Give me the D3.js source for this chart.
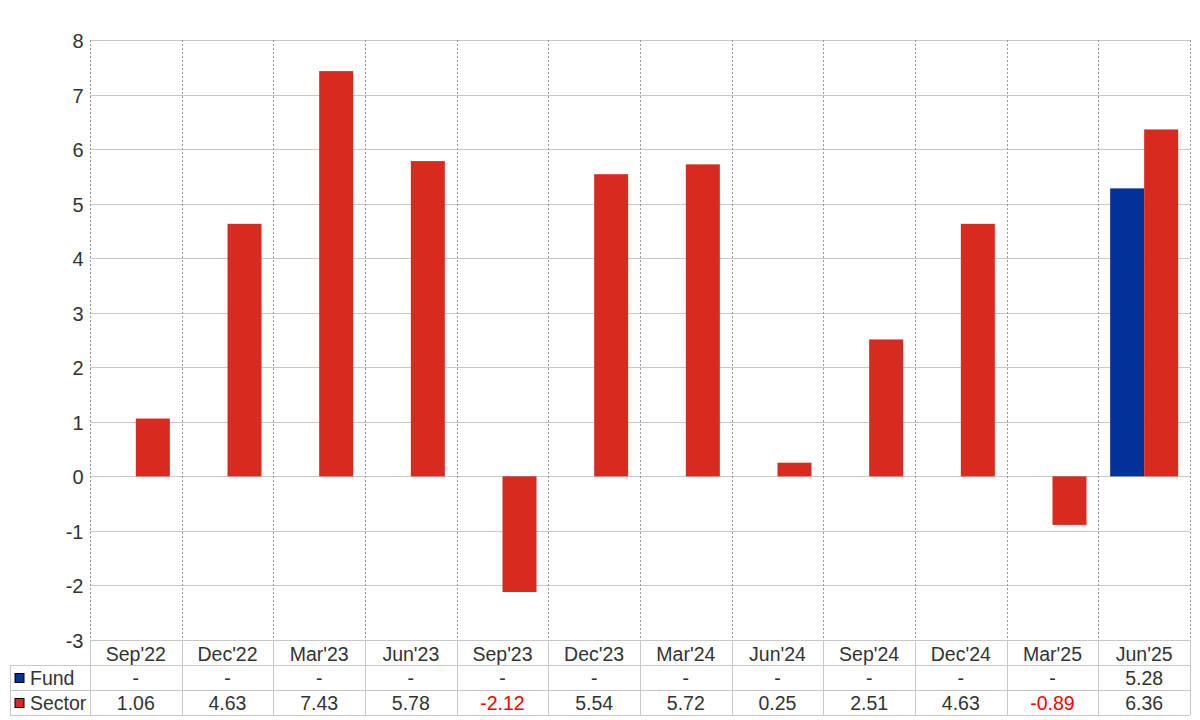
<!DOCTYPE html>
<html><head><meta charset="utf-8">
<script src="https://cdn.jsdelivr.net/npm/d3@7"></script>
<style>body{margin:0;background:#fff}svg{display:block;font-family:"Liberation Sans",Arial,sans-serif}</style>
</head><body><svg id="c" width="1200" height="720"></svg>
<script>
const categories = ["Sep'22","Dec'22","Mar'23","Jun'23","Sep'23","Dec'23","Mar'24","Jun'24","Sep'24","Dec'24","Mar'25","Jun'25"];
const seriesNames = ["Fund","Sector"];
const fundValues = [null,null,null,null,null,null,null,null,null,null,null,5.28];
const sectorValues = [1.06,4.63,7.43,5.78,-2.12,5.54,5.72,0.25,2.51,4.63,-0.89,6.36];
const yTicks = [-3,-2,-1,0,1,2,3,4,5,6,7,8];
const colors = {Fund:"#003299", Sector:"#d72b1f"};

const svg = d3.select("#c");
const L=90, R=1190, T=40, B=640;
const x = d3.scaleBand().domain(categories).range([L,R]).padding(0);
const xs = d3.scaleBand().domain(seriesNames).range([0,x.bandwidth()]).paddingInner(0).paddingOuter(0.348);
const y = d3.scaleLinear().domain([-3,8]).range([B,T]);

// horizontal grid
svg.append("g").selectAll("line").data(yTicks).join("line")
  .attr("x1",L).attr("x2",R).attr("y1",d=>Math.round(y(d))+0.5).attr("y2",d=>Math.round(y(d))+0.5)
  .attr("stroke","#c8c8c8").attr("stroke-width",1);
// vertical dotted grid
const vx = categories.map(c=>x(c)).concat([R]);
svg.append("g").selectAll("line").data(vx).join("line")
  .attr("x1",d=>Math.round(d)+0.5).attr("x2",d=>Math.round(d)+0.5).attr("y1",T).attr("y2",B)
  .attr("stroke","#999").attr("stroke-dasharray","2,2").attr("stroke-width",1);

// y labels
svg.append("g").selectAll("text").data(yTicks).join("text")
  .attr("x",83.5).attr("y",d=>y(d)+1).attr("dy","0.35em").attr("text-anchor","end")
  .attr("font-size",20).attr("fill","#333").text(d=>d);

// bars
const data = [];
categories.forEach((c,i)=>{
  data.push({c,s:"Fund",v:fundValues[i]});
  data.push({c,s:"Sector",v:sectorValues[i]});
});
svg.append("g").selectAll("rect").data(data.filter(d=>d.v!==null)).join("rect")
  .attr("x",d=>x(d.c)+xs(d.s)).attr("width",xs.bandwidth())
  .attr("y",d=>y(Math.max(0,d.v))).attr("height",d=>Math.abs(y(d.v)-y(0)))
  .attr("fill",d=>colors[d.s]);

// table
const tg = svg.append("g");
const rowH = 25;
const r1 = B+25, r2 = r1+rowH, r3 = r2+rowH;
const fs = 19.5;
tg.selectAll("text.h").data(categories).join("text").attr("class","h")
  .attr("x",d=>x(d)+x.bandwidth()/2).attr("y",(B+r1)/2+1.5).attr("dy","0.35em")
  .attr("text-anchor","middle").attr("font-size",fs).attr("fill","#333").text(d=>d);
const lc="#c8c8c8";
[r1,r2,r3].forEach(yy=>tg.append("line").attr("x1",10).attr("x2",R).attr("y1",yy+0.5).attr("y2",yy+0.5).attr("stroke",lc));
vx.forEach(xx=>tg.append("line").attr("x1",Math.round(xx)+0.5).attr("x2",Math.round(xx)+0.5).attr("y1",B).attr("y2",r3).attr("stroke",lc));
tg.append("line").attr("x1",10.5).attr("x2",10.5).attr("y1",r1).attr("y2",r3).attr("stroke",lc);
const rows = [{s:"Fund",vals:fundValues,yc:(r1+r2)/2+0.5},{s:"Sector",vals:sectorValues,yc:(r2+r3)/2+0.5}];
rows.forEach(r=>{
  tg.append("rect").attr("x",15).attr("y",r.yc-4.5).attr("width",9).attr("height",9)
    .attr("fill",colors[r.s]).attr("stroke","#000").attr("stroke-width",1);
  tg.append("text").attr("x",30).attr("y",r.yc+0.5).attr("dy","0.35em").attr("font-size",fs).attr("fill","#333").text(r.s);
  tg.selectAll(null).data(categories).join("text")
    .attr("x",d=>x(d)+x.bandwidth()/2).attr("y",r.yc+0.5).attr("dy","0.35em").attr("text-anchor","middle")
    .attr("font-size",fs)
    .attr("fill",(d,i)=>r.vals[i]!==null && r.vals[i]<0 ? "#ff0000" : "#333")
    .text((d,i)=>r.vals[i]===null ? "-" : r.vals[i].toFixed(2));
});
</script></body></html>
